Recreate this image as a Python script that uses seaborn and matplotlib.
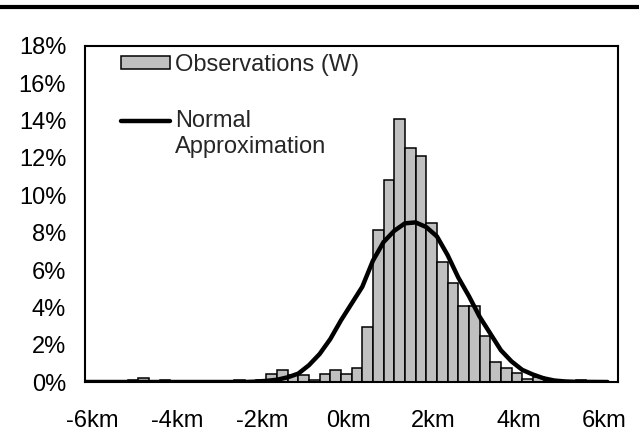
#####----- Histogram of observations (W) with a normal approximation overlay

#####----- IMPORTS
import numpy as np
import pandas as pd
import seaborn as sns
import matplotlib.pyplot as plt
import matplotlib.transforms as mtransforms
from matplotlib.patches import Patch
from matplotlib.lines import Line2D
from matplotlib.legend_handler import HandlerLine2D
from matplotlib.ticker import FuncFormatter, MultipleLocator

#####----- DATA (km, percent)
bin_start = [-5.0, -4.75, -4.25, -2.5, -2.25, -2.0, -1.75, -1.5, -1.25, -1.0,
             -0.75, -0.5, -0.25, 0.0, 0.25, 0.5, 0.75, 1.0, 1.25, 1.5,
             1.75, 2.0, 2.25, 2.5, 2.75, 3.0, 3.25, 3.5, 3.75, 4.0,
             4.25, 4.5, 4.75, 5.0, 5.25, 5.5]
obs_pct = [0.13, 0.23, 0.13, 0.13, 0.08, 0.10, 0.45, 0.66, 0.35, 0.35,
           0.13, 0.45, 0.66, 0.45, 0.77, 2.97, 8.15, 10.83, 14.1, 12.56,
           12.12, 8.54, 6.45, 5.29, 4.07, 4.07, 2.48, 1.09, 0.77, 0.50,
           0.14, 0.27, 0.06, 0.06, 0.06, 0.13]

curve_km = [-6.0, -2.5, -2.25, -2.0, -1.75, -1.5, -1.25, -1.0, -0.75, -0.5,
            -0.25, 0.0, 0.25, 0.5, 0.75, 1.0, 1.25, 1.5, 1.75, 2.0,
            2.25, 2.5, 2.75, 3.0, 3.25, 3.5, 3.75, 4.0, 4.25, 4.5,
            4.75, 5.0, 5.25, 5.5, 6.25]
curve_pct = [0.0, 0.0, 0.0, 0.02, 0.06, 0.12, 0.25, 0.45, 0.9, 1.5,
             2.3, 3.3, 4.2, 5.1, 6.5, 7.5, 8.1, 8.5, 8.55, 8.3,
             7.8, 6.8, 5.6, 4.6, 3.5, 2.6, 1.7, 1.1, 0.65, 0.4,
             0.2, 0.08, 0.03, 0.01, 0.0]

x_ticks = [-6, -4, -2, 0, 2, 4, 6]
bin_w = 0.25
fs = 17


class HandlerTopLine(HandlerLine2D):
    # put the line next to the first row of a two-row label
    def create_artists(self, legend, orig_handle, xdescent, ydescent,
                       width, height, fontsize, trans):
        arts = super().create_artists(legend, orig_handle, xdescent, ydescent,
                                      width, height, fontsize, trans)
        for a in arts:
            a.set_ydata(np.asarray(a.get_ydata()) + 0.6 * fontsize)
        return arts


#####----- PLOT
sns.set_style("white")
plt.rcParams['font.family'] = ['Liberation Sans', 'DejaVu Sans']
plt.rcParams['font.size'] = fs

fig = plt.figure(figsize=(6.39, 4.47), dpi=100)
ax = fig.add_axes([0.133, 0.1454, 0.8345, 0.7517])

obs_df = pd.DataFrame({'km': np.array(bin_start) + bin_w / 2, 'pct': obs_pct})
sns.histplot(data=obs_df, x='km', weights='pct', binwidth=bin_w,
             binrange=(-6.0, 6.5), stat='count',
             color='#C0C0C0', edgecolor='black', linewidth=1.1, alpha=1,
             ax=ax)
sns.lineplot(x=curve_km, y=curve_pct, color='black', linewidth=3.2, ax=ax)

ax.set_xlim(-6, 6.5)
ax.set_ylim(0, 18)
ax.set_xticks(x_ticks)
ax.xaxis.set_major_formatter(FuncFormatter(lambda v, p: f"{int(round(v))}km"))
ax.yaxis.set_major_locator(MultipleLocator(2))
ax.yaxis.set_major_formatter(FuncFormatter(lambda v, p: f"{int(round(v))}%"))
ax.set_xlabel('')
ax.set_ylabel('')

for s in ax.spines.values():
    s.set_linewidth(1.5)
    s.set_color('black')
ax.tick_params(axis='both', direction='inout', length=11, width=1.3,
               colors='black', labelsize=fs)
ax.tick_params(axis='x', pad=15)
ax.tick_params(axis='y', pad=8)

# x labels sit a little right of their ticks in the original
shift = mtransforms.ScaledTranslation(0.07, 0, fig.dpi_scale_trans)
for lab in ax.get_xticklabels():
    lab.set_transform(lab.get_transform() + shift)

line_h = Line2D([0], [0], color='black', linewidth=3.2)
handles = [Patch(facecolor='#C0C0C0', edgecolor='black', linewidth=1.1), line_h]
ax.legend(handles, ['Observations (W)', 'Normal\nApproximation'],
          loc='upper left', bbox_to_anchor=(0.058, 0.99), frameon=False,
          borderpad=0.2, borderaxespad=0, handlelength=2.1,
          handleheight=0.45, handletextpad=0.2, labelspacing=1.45,
          fontsize=fs, handler_map={line_h: HandlerTopLine()})

# rule across the top of the picture
fig.add_artist(Line2D([0, 1], [0.984, 0.984], color='black', linewidth=3,
                      transform=fig.transFigure))

plt.savefig("out.png", dpi=100)
